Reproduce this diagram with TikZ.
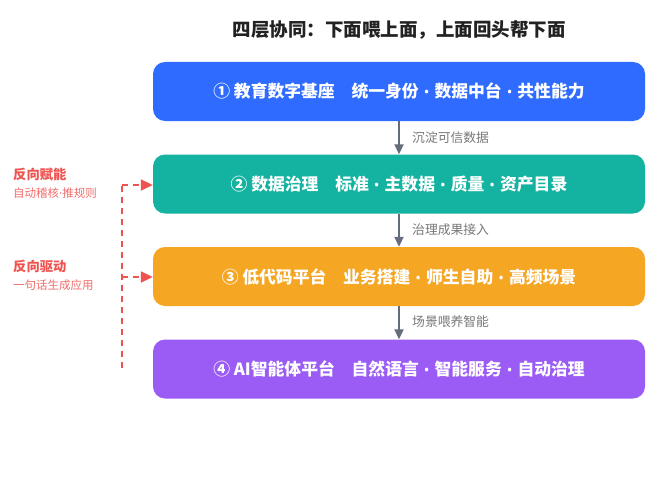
\documentclass[tikz,border=0pt]{standalone}
\usepackage{fontspec}
\setmainfont{Noto Sans CJK SC}
\newfontfamily\latinfont{Noto Sans}
\usetikzlibrary{arrows.meta}
\definecolor{cblue}{RGB}{47,107,255}
\definecolor{cteal}{RGB}{20,178,160}
\definecolor{corange}{RGB}{245,166,35}
\definecolor{cpurple}{RGB}{155,92,246}
\definecolor{cred}{RGB}{239,83,80}
\definecolor{cred2}{RGB}{241,110,108}
\definecolor{carrow}{RGB}{100,108,125}
\definecolor{clabel}{RGB}{120,120,120}
\definecolor{ctitle}{RGB}{34,34,34}
\newcommand{\sepdot}{\hspace{0.3em}{\latinfont\bfseries\fontsize{15pt}{15pt}\selectfont •}\hspace{0.3em}}
\newcommand{\smalldot}{{\latinfont ·}}
\tikzset{
  layer/.style={rounded corners=12pt, minimum width=492pt, minimum height=59pt, inner sep=0pt,
    text=white, font=\fontsize{16.8pt}{19pt}\selectfont\bfseries},
  flow/.style={draw=carrow, line width=2pt, -{Triangle[length=10pt,width=9pt]}},
  flowlabel/.style={text=clabel, font=\fontsize{12.8pt}{15pt}\selectfont, anchor=west, inner sep=0pt},
  back/.style={draw=cred, line width=2pt, dash pattern=on 6pt off 5pt, -{Triangle[length=12pt,width=11pt]}},
  backtitle/.style={text=cred, font=\fontsize{13.3pt}{15pt}\selectfont\bfseries, anchor=west, inner sep=0pt},
  backsub/.style={text=cred2, font=\fontsize{11.5pt}{14pt}\selectfont, anchor=west, inner sep=0pt},
}
\begin{document}
\begin{tikzpicture}[x=1pt,y=-1pt]
\useasboundingbox[fill=white] (0,0) rectangle (668,492);
\node[text=ctitle, font=\fontsize{18.5pt}{21pt}\selectfont\bfseries] (title) at (399,30) {四层协同：下面喂上面，上面回头帮下面};
\node[layer, fill=cblue] (l1) at (399,91.5) {① 教育数字基座\hspace{1em}统一身份\sepdot 数据中台\sepdot 共性能力};
\node[layer, fill=cteal] (l2) at (399,184) {② 数据治理\hspace{1em}标准\sepdot 主数据\sepdot 质量\sepdot 资产目录};
\node[layer, fill=corange] (l3) at (399,276.5) {③ 低代码平台\hspace{1em}业务搭建\sepdot 师生自助\sepdot 高频场景};
\node[layer, fill=cpurple] (l4) at (399,369) {④ AI智能体平台\hspace{1em}自然语言\sepdot 智能服务\sepdot 自动治理};
\draw[flow] (l1.south -| 399,0) -- (l2.north -| 399,0);
\draw[flow] (l2.south -| 399,0) -- (l3.north -| 399,0);
\draw[flow] (l3.south -| 399,0) -- (l4.north -| 399,0);
\node[flowlabel] (f1) at (412,138) {沉淀可信数据};
\node[flowlabel] (f2) at (412,230) {治理成果接入};
\node[flowlabel] (f3) at (412,322) {场景喂养智能};
\coordinate (vtop) at (122,185);
\coordinate (vmid) at (122,277);
\coordinate (vbot) at (122,368);
\draw[draw=cred, line width=2pt, dash pattern=on 6pt off 5pt] (vbot) -- (vtop);
\draw[back] (vtop) -- (vtop -| l2.west);
\draw[back] (vmid) -- (vmid -| l3.west);
\node[backtitle] (b1) at (13,174) {反向赋能};
\node[backsub] (b1s) at (13,193) {自动稽核\smalldot 推规则};
\node[backtitle] (b2) at (13,266.5) {反向驱动};
\node[backsub] (b2s) at (13,285) {一句话生成应用};
\end{tikzpicture}
\end{document}
